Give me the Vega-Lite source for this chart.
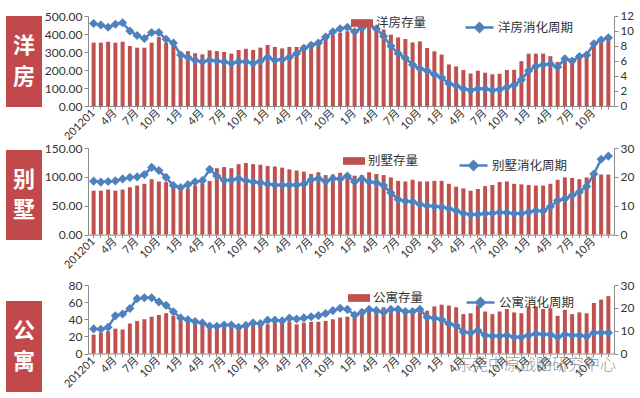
{
"$schema": "https://vega.github.io/schema/vega-lite/v6.json",
"background": "white",
"padding": {"left": 6, "top": 10, "right": 0, "bottom": 0},
"config": {
  "font": "Noto Sans CJK SC",
  "view": {"stroke": null},
  "axis": {"labelFont": "Lato, 'Noto Sans CJK SC'", "labelColor": "#333333", "labelFontSize": 12, "domainColor": "#8c8c8c", "tickColor": "#8c8c8c", "grid": false},
  "axisX": {"labelAngle": 315, "labelAlign": "right", "labelBaseline": "middle"},
  "legend": {"labelFont": "Noto Sans CJK SC", "labelFontSize": 12.5, "labelColor": "#333333", "padding": 0, "labelOffset": 3}
},
"datasets": {
"yf": [
{"m":"2012-01","s":352,"c":11.0},{"m":"2012-02","s":352,"c":10.8},{"m":"2012-03","s":357,"c":10.5},{"m":"2012-04","s":352,"c":10.9},{"m":"2012-05","s":357,"c":11.1},{"m":"2012-06","s":333,"c":10.0},{"m":"2012-07","s":324,"c":9.4},{"m":"2012-08","s":324,"c":9.0},{"m":"2012-09","s":352,"c":9.8},{"m":"2012-10","s":383,"c":9.8},{"m":"2012-11","s":350,"c":8.9},{"m":"2012-12","s":340,"c":8.4},
{"m":"2013-01","s":300,"c":6.8},{"m":"2013-02","s":305,"c":6.5},{"m":"2013-03","s":293,"c":6.1},{"m":"2013-04","s":287,"c":5.9},{"m":"2013-05","s":309,"c":6.1},{"m":"2013-06","s":305,"c":6.0},{"m":"2013-07","s":300,"c":5.9},{"m":"2013-08","s":291,"c":5.7},{"m":"2013-09","s":311,"c":5.9},{"m":"2013-10","s":318,"c":5.9},{"m":"2013-11","s":311,"c":5.7},{"m":"2013-12","s":324,"c":6.0},
{"m":"2014-01","s":339,"c":6.5},{"m":"2014-02","s":328,"c":6.1},{"m":"2014-03","s":320,"c":6.2},{"m":"2014-04","s":328,"c":6.5},{"m":"2014-05","s":328,"c":7.0},{"m":"2014-06","s":339,"c":7.7},{"m":"2014-07","s":352,"c":8.1},{"m":"2014-08","s":361,"c":8.4},{"m":"2014-09","s":376,"c":9.2},{"m":"2014-10","s":394,"c":9.9},{"m":"2014-11","s":407,"c":10.3},{"m":"2014-12","s":415,"c":10.5},
{"m":"2015-01","s":425,"c":9.9},{"m":"2015-02","s":435,"c":10.4},{"m":"2015-03","s":445,"c":10.8},{"m":"2015-04","s":435,"c":10.3},{"m":"2015-05","s":425,"c":9.3},{"m":"2015-06","s":396,"c":8.0},{"m":"2015-07","s":381,"c":7.0},{"m":"2015-08","s":372,"c":6.4},{"m":"2015-09","s":353,"c":5.5},{"m":"2015-10","s":359,"c":5.0},{"m":"2015-11","s":322,"c":4.7},{"m":"2015-12","s":304,"c":4.2},
{"m":"2016-01","s":286,"c":3.8},{"m":"2016-02","s":231,"c":3.0},{"m":"2016-03","s":220,"c":2.7},{"m":"2016-04","s":200,"c":2.3},{"m":"2016-05","s":181,"c":2.1},{"m":"2016-06","s":196,"c":2.3},{"m":"2016-07","s":185,"c":2.3},{"m":"2016-08","s":176,"c":2.1},{"m":"2016-09","s":179,"c":2.2},{"m":"2016-10","s":200,"c":2.5},{"m":"2016-11","s":201,"c":2.8},{"m":"2016-12","s":249,"c":3.5},
{"m":"2017-01","s":291,"c":4.7},{"m":"2017-02","s":291,"c":5.3},{"m":"2017-03","s":291,"c":5.5},{"m":"2017-04","s":277,"c":5.6},{"m":"2017-05","s":245,"c":5.2},{"m":"2017-06","s":255,"c":6.3},{"m":"2017-07","s":258,"c":6.0},{"m":"2017-08","s":265,"c":6.6},{"m":"2017-09","s":275,"c":6.8},{"m":"2017-10","s":340,"c":8.3},{"m":"2017-11","s":365,"c":8.8},{"m":"2017-12","s":380,"c":9.1}
],
"bs": [
{"m":"2012-01","s":76,"c":18.5},{"m":"2012-02","s":76,"c":18.2},{"m":"2012-03","s":78,"c":18.4},{"m":"2012-04","s":76,"c":18.6},{"m":"2012-05","s":78,"c":19.3},{"m":"2012-06","s":82,"c":19.8},{"m":"2012-07","s":85,"c":20.0},{"m":"2012-08","s":88,"c":20.8},{"m":"2012-09","s":96,"c":23.3},{"m":"2012-10","s":92,"c":22.2},{"m":"2012-11","s":91,"c":19.8},{"m":"2012-12","s":85,"c":17.0},
{"m":"2013-01","s":79,"c":16.3},{"m":"2013-02","s":80,"c":17.3},{"m":"2013-03","s":85,"c":18.3},{"m":"2013-04","s":88,"c":18.7},{"m":"2013-05","s":93,"c":22.6},{"m":"2013-06","s":115,"c":20.3},{"m":"2013-07","s":117,"c":18.8},{"m":"2013-08","s":115,"c":18.9},{"m":"2013-09","s":122,"c":19.4},{"m":"2013-10","s":124,"c":18.7},{"m":"2013-11","s":122,"c":18.3},{"m":"2013-12","s":121,"c":18.0},
{"m":"2014-01","s":119,"c":17.5},{"m":"2014-02","s":118,"c":17.2},{"m":"2014-03","s":116,"c":17.2},{"m":"2014-04","s":113,"c":17.2},{"m":"2014-05","s":111,"c":17.2},{"m":"2014-06","s":109,"c":17.5},{"m":"2014-07","s":105,"c":19.0},{"m":"2014-08","s":108,"c":19.4},{"m":"2014-09","s":103,"c":18.5},{"m":"2014-10","s":104,"c":19.4},{"m":"2014-11","s":107,"c":19.3},{"m":"2014-12","s":104,"c":20.3},
{"m":"2015-01","s":102,"c":18.3},{"m":"2015-02","s":103,"c":19.3},{"m":"2015-03","s":108,"c":18.3},{"m":"2015-04","s":105,"c":18.0},{"m":"2015-05","s":103,"c":17.0},{"m":"2015-06","s":99,"c":14.5},{"m":"2015-07","s":93,"c":12.2},{"m":"2015-08","s":92,"c":11.6},{"m":"2015-09","s":95,"c":11.4},{"m":"2015-10","s":92,"c":10.5},{"m":"2015-11","s":92,"c":10.0},{"m":"2015-12","s":93,"c":9.8},
{"m":"2016-01","s":93,"c":9.6},{"m":"2016-02","s":88,"c":9.0},{"m":"2016-03","s":83,"c":8.3},{"m":"2016-04","s":80,"c":7.3},{"m":"2016-05","s":76,"c":7.0},{"m":"2016-06","s":79,"c":7.0},{"m":"2016-07","s":84,"c":7.3},{"m":"2016-08","s":86,"c":7.4},{"m":"2016-09","s":91,"c":7.7},{"m":"2016-10","s":92,"c":7.6},{"m":"2016-11","s":88,"c":7.3},{"m":"2016-12","s":87,"c":7.3},
{"m":"2017-01","s":86,"c":7.8},{"m":"2017-02","s":85,"c":8.3},{"m":"2017-03","s":85,"c":8.2},{"m":"2017-04","s":88,"c":9.7},{"m":"2017-05","s":95,"c":11.8},{"m":"2017-06","s":99,"c":12.4},{"m":"2017-07","s":98,"c":13.6},{"m":"2017-08","s":96,"c":14.8},{"m":"2017-09","s":99,"c":16.7},{"m":"2017-10","s":102,"c":21.0},{"m":"2017-11","s":104,"c":26.1},{"m":"2017-12","s":104,"c":27.2}
],
"gy": [
{"m":"2012-01","s":22,"c":10.8},{"m":"2012-02","s":24,"c":10.6},{"m":"2012-03","s":26,"c":11.5},{"m":"2012-04","s":29,"c":16.5},{"m":"2012-05","s":28,"c":17.3},{"m":"2012-06","s":35,"c":19.7},{"m":"2012-07","s":38,"c":24.0},{"m":"2012-08","s":40,"c":24.4},{"m":"2012-09","s":43,"c":24.4},{"m":"2012-10","s":45,"c":22.6},{"m":"2012-11","s":47,"c":21.1},{"m":"2012-12","s":44,"c":18.3},
{"m":"2013-01","s":40,"c":15.6},{"m":"2013-02","s":38,"c":14.8},{"m":"2013-03","s":36,"c":14.0},{"m":"2013-04","s":34,"c":13.4},{"m":"2013-05","s":32,"c":12.0},{"m":"2013-06","s":32,"c":11.9},{"m":"2013-07","s":33,"c":12.5},{"m":"2013-08","s":32,"c":12.5},{"m":"2013-09","s":31,"c":11.5},{"m":"2013-10","s":31,"c":12.3},{"m":"2013-11","s":33,"c":13.4},{"m":"2013-12","s":34,"c":13.1},
{"m":"2014-01","s":34,"c":14.6},{"m":"2014-02","s":36,"c":14.6},{"m":"2014-03","s":37,"c":14.3},{"m":"2014-04","s":37,"c":15.5},{"m":"2014-05","s":34,"c":15.1},{"m":"2014-06","s":36,"c":15.6},{"m":"2014-07","s":37,"c":16.1},{"m":"2014-08","s":37,"c":16.6},{"m":"2014-09","s":38,"c":17.5},{"m":"2014-10","s":40,"c":18.8},{"m":"2014-11","s":42,"c":19.8},{"m":"2014-12","s":43,"c":19.3},
{"m":"2015-01","s":46,"c":16.8},{"m":"2015-02","s":52,"c":18.0},{"m":"2015-03","s":50,"c":19.3},{"m":"2015-04","s":52,"c":18.8},{"m":"2015-05","s":54,"c":18.1},{"m":"2015-06","s":53,"c":19.3},{"m":"2015-07","s":52,"c":19.3},{"m":"2015-08","s":51,"c":18.4},{"m":"2015-09","s":50,"c":18.4},{"m":"2015-10","s":51,"c":19.3},{"m":"2015-11","s":50,"c":15.9},{"m":"2015-12","s":55,"c":15.5},
{"m":"2016-01","s":57,"c":14.9},{"m":"2016-02","s":56,"c":13.0},{"m":"2016-03","s":54,"c":12.3},{"m":"2016-04","s":46,"c":9.4},{"m":"2016-05","s":47,"c":9.1},{"m":"2016-06","s":56,"c":10.1},{"m":"2016-07","s":49,"c":8.0},{"m":"2016-08","s":46,"c":7.7},{"m":"2016-09","s":49,"c":7.7},{"m":"2016-10","s":52,"c":8.0},{"m":"2016-11","s":48,"c":7.2},{"m":"2016-12","s":47,"c":7.2},
{"m":"2017-01","s":55,"c":8.0},{"m":"2017-02","s":55,"c":8.7},{"m":"2017-03","s":52,"c":8.4},{"m":"2017-04","s":53,"c":8.3},{"m":"2017-05","s":44,"c":7.2},{"m":"2017-06","s":51,"c":8.3},{"m":"2017-07","s":46,"c":8.0},{"m":"2017-08","s":48,"c":8.0},{"m":"2017-09","s":47,"c":7.5},{"m":"2017-10","s":59,"c":9.1},{"m":"2017-11","s":63,"c":9.1},{"m":"2017-12","s":67,"c":9.1}
],
"b1": [{"t": "洋"}, {"t": "房"}],
"b2": [{"t": "别"}, {"t": "墅"}],
"b3": [{"t": "公"}, {"t": "寓"}],
"wm": [{"t": "东莞中原战略研究中心"}]
},
"spacing": 0,
"resolve": {"scale": {"fill": "independent", "stroke": "independent"}, "legend": {"fill": "independent", "stroke": "independent"}},
"hconcat": [
{
  "bounds": "flush",
  "spacing": 43,
  "vconcat": [
    {"width": 36, "height": 91, "view": {"fill": "#c2494b", "stroke": null}, "data": {"name": "b1"},
     "mark": {"type": "text", "color": "white", "fontSize": 22, "fontWeight": "bold", "baseline": "middle"},
     "encoding": {"y": {"field": "t", "type": "nominal", "sort": null, "scale": {"type": "point", "padding": 1.18}, "axis": null}, "text": {"field": "t", "type": "nominal"}}},
    {"bounds": "flush", "spacing": 61, "vconcat": [
      {"width": 36, "height": 90, "view": {"fill": "#c2494b", "stroke": null}, "data": {"name": "b2"},
       "mark": {"type": "text", "color": "white", "fontSize": 22, "fontWeight": "bold", "baseline": "middle"},
       "encoding": {"y": {"field": "t", "type": "nominal", "sort": null, "scale": {"type": "point", "padding": 1.16}, "axis": null}, "text": {"field": "t", "type": "nominal"}}},
      {"width": 36, "height": 91, "view": {"fill": "#c2494b", "stroke": null}, "data": {"name": "b3"},
       "mark": {"type": "text", "color": "white", "fontSize": 22, "fontWeight": "bold", "baseline": "middle"},
       "encoding": {"y": {"field": "t", "type": "nominal", "sort": null, "scale": {"type": "point", "padding": 1.18}, "axis": null}, "text": {"field": "t", "type": "nominal"}}}
    ]}
  ]
},
{
  "bounds": "flush",
  "spacing": 42,
  "resolve": {"scale": {"fill": "independent", "stroke": "independent"}, "legend": {"fill": "independent", "stroke": "independent"}},
  "vconcat": [
    {
      "width": 526, "height": 90,
      "data": {"name": "yf"},
      "encoding": {"x": {"field": "m", "type": "ordinal", "scale": {"paddingInner": 0.45, "paddingOuter": 0.5},
        "axis": {"title": null, "labelAngle": 315, "labelFontSize": 11, "tickSize": 3, "labelPadding": 2, "labelOverlap": false,
          "labelExpr": "datum.value == '2012-01' ? '201201' : indexof(['01','04','07','10'], substring(datum.value, 5, 7)) >= 0 ? toNumber(substring(datum.value, 5, 7)) + '月' : ''"}}},
      "layer": [
        {"mark": {"type": "bar"},
         "encoding": {
           "y": {"field": "s", "type": "quantitative", "scale": {"domain": [0, 500]}, "axis": {"title": null, "values": [0,100,200,300,400,500], "format": ".2f", "tickSize": 4, "minExtent": 46, "maxExtent": 46}},
           "fill": {"datum": "洋房存量", "type": "nominal", "scale": {"range": ["#c0504d"]}, "legend": {"title": null, "orient": "none", "legendX": 263, "legendY": -4, "symbolType": "M-1,-0.35H1V0.35H-1Z", "symbolSize": 484, "symbolStrokeWidth": 0}}}},
        {"mark": {"type": "line", "strokeWidth": 2.5, "point": {"shape": "diamond", "size": 40, "filled": true, "fill": "#4f81bd"}},
         "encoding": {
           "y": {"field": "c", "type": "quantitative", "scale": {"domain": [0, 12]}, "axis": {"title": null, "orient": "right", "values": [0,2,4,6,8,10,12], "labelFontSize": 11.5, "tickSize": 4, "minExtent": 25, "maxExtent": 25}},
           "stroke": {"datum": "洋房消化周期", "type": "nominal", "scale": {"range": ["#4f81bd"]}, "legend": {"title": null, "orient": "none", "legendX": 376, "legendY": -4, "symbolType": "M-1,0H1M0,-0.3L0.3,0L0,0.3L-0.3,0Z", "symbolSize": 784, "symbolStrokeWidth": 2.5, "symbolFillColor": "#4f81bd"}}}}
      ],
      "resolve": {"scale": {"y": "independent"}}
    },
    {
      "bounds": "flush",
      "spacing": 50,
      "resolve": {"scale": {"fill": "independent", "stroke": "independent"}, "legend": {"fill": "independent", "stroke": "independent"}},
      "vconcat": [
        {
          "width": 526, "height": 86.6,
          "data": {"name": "bs"},
          "encoding": {"x": {"field": "m", "type": "ordinal", "scale": {"paddingInner": 0.45, "paddingOuter": 0.5},
            "axis": {"title": null, "labelAngle": 315, "labelFontSize": 11, "tickSize": 3, "labelPadding": 2, "labelOverlap": false,
              "labelExpr": "datum.value == '2012-01' ? '201201' : indexof(['01','04','07','10'], substring(datum.value, 5, 7)) >= 0 ? toNumber(substring(datum.value, 5, 7)) + '月' : ''"}}},
          "layer": [
            {"mark": {"type": "bar"},
             "encoding": {
               "y": {"field": "s", "type": "quantitative", "scale": {"domain": [0, 150]}, "axis": {"title": null, "values": [0,50,100,150], "format": ".2f", "tickSize": 4, "minExtent": 46, "maxExtent": 46}},
               "fill": {"datum": "别墅存量", "type": "nominal", "scale": {"range": ["#c0504d"]}, "legend": {"title": null, "orient": "none", "legendX": 255, "legendY": 2, "symbolType": "M-1,-0.35H1V0.35H-1Z", "symbolSize": 484, "symbolStrokeWidth": 0}}}},
            {"mark": {"type": "line", "strokeWidth": 2.5, "point": {"shape": "diamond", "size": 40, "filled": true, "fill": "#4f81bd"}},
             "encoding": {
               "y": {"field": "c", "type": "quantitative", "scale": {"domain": [0, 30]}, "axis": {"title": null, "orient": "right", "values": [0,10,20,30], "tickSize": 4, "minExtent": 25, "maxExtent": 25}},
               "stroke": {"datum": "别墅消化周期", "type": "nominal", "scale": {"range": ["#4f81bd"]}, "legend": {"title": null, "orient": "none", "legendX": 370, "legendY": 2, "symbolType": "M-1,0H1M0,-0.3L0.3,0L0,0.3L-0.3,0Z", "symbolSize": 784, "symbolStrokeWidth": 2.5, "symbolFillColor": "#4f81bd"}}}}
          ],
          "resolve": {"scale": {"y": "independent"}}
        },
        {
          "width": 526, "height": 68.5,
          "data": {"name": "gy"},
          "encoding": {"x": {"field": "m", "type": "ordinal", "scale": {"paddingInner": 0.45, "paddingOuter": 0.5},
            "axis": {"title": null, "labelAngle": 315, "labelFontSize": 11, "tickSize": 3, "labelPadding": 2, "labelOverlap": false,
              "labelExpr": "datum.value == '2012-01' ? '201201' : indexof(['01','04','07','10'], substring(datum.value, 5, 7)) >= 0 ? toNumber(substring(datum.value, 5, 7)) + '月' : ''"}}},
          "layer": [
            {"mark": {"type": "bar"},
             "encoding": {
               "y": {"field": "s", "type": "quantitative", "scale": {"domain": [0, 80]}, "axis": {"title": null, "values": [0,20,40,60,80], "format": "d", "tickSize": 4, "minExtent": 46, "maxExtent": 46}},
               "fill": {"datum": "公寓存量", "type": "nominal", "scale": {"range": ["#c0504d"]}, "legend": {"title": null, "orient": "none", "legendX": 260, "legendY": 2, "symbolType": "M-1,-0.35H1V0.35H-1Z", "symbolSize": 484, "symbolStrokeWidth": 0}}}},
            {"mark": {"type": "line", "strokeWidth": 2.5, "point": {"shape": "diamond", "size": 40, "filled": true, "fill": "#4f81bd"}},
             "encoding": {
               "y": {"field": "c", "type": "quantitative", "scale": {"domain": [0, 30]}, "axis": {"title": null, "orient": "right", "values": [0,10,20,30], "tickSize": 4, "minExtent": 25, "maxExtent": 25}},
               "stroke": {"datum": "公寓消化周期", "type": "nominal", "scale": {"range": ["#4f81bd"]}, "legend": {"title": null, "orient": "none", "legendX": 377, "legendY": 2, "symbolType": "M-1,0H1M0,-0.3L0.3,0L0,0.3L-0.3,0Z", "symbolSize": 784, "symbolStrokeWidth": 2.5, "symbolFillColor": "#4f81bd"}}}},
            {"data": {"name": "wm"},
             "mark": {"type": "text", "fontSize": 16, "fontWeight": 300, "color": "#777777", "opacity": 0.75, "align": "center", "baseline": "middle"},
             "encoding": {
               "x": {"datum": "2017-02", "type": "ordinal"},
               "y": {"datum": -13, "type": "quantitative", "scale": {"domain": [0, 80]}, "axis": null},
               "text": {"field": "t", "type": "nominal"}}}
          ],
          "resolve": {"scale": {"y": "independent"}}
        }
      ]
    }
  ]
}
]
}
